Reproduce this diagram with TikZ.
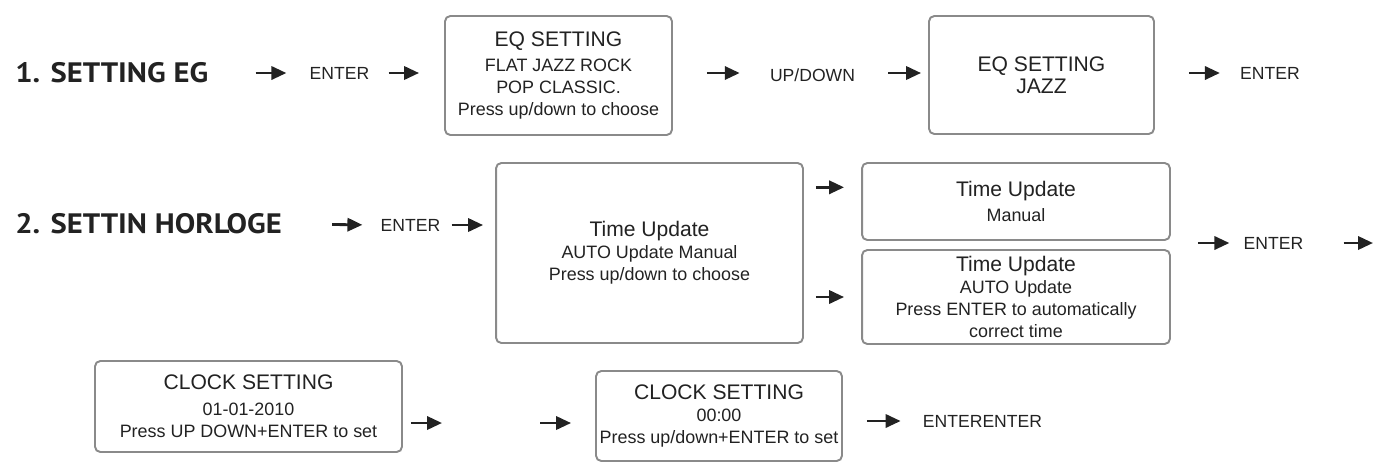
\documentclass[tikz,border=0pt]{standalone}
\usepackage{fontspec}
\setmainfont{Liberation Sans}
\newfontfamily\headfont[FakeStretch=1.09]{PT Sans}
\usetikzlibrary{arrows.meta,calc}
\definecolor{Ink}{HTML}{222222}
\definecolor{Frame}{HTML}{8A8A8A}
\newcommand\scrtitle[1]{{\fontsize{12}{14}\selectfont #1}}

\begin{document}
\begin{tikzpicture}[x=0.02cm,y=-0.02cm,
  screen/.style={draw=Frame,line width=1.1pt,rounded corners=3pt,fill=white,inner sep=0pt,
    align=center,text=Ink,font=\fontsize{10.2}{12.6}\selectfont},
  lbl/.style={inner sep=0pt,text=Ink,font=\fontsize{10}{12}\selectfont},
  head/.style={inner sep=0pt,anchor=west,text=Ink,font=\headfont\bfseries\fontsize{16}{18}\selectfont},
  arr/.style={-{Triangle[length=8.5pt,width=7.5pt]},line width=1.6pt,Ink},
  gaps/.style 2 args={shorten <=#1*0.02cm,shorten >=#2*0.02cm}]
  \useasboundingbox (0,0) rectangle (1376,468);

  % row 1: equaliser
  \node[head] (t1) at (15,73) {1. SETTING EG};
  \node[lbl] (e1) at (339.5,73) {ENTER};
  \node[screen,minimum width=4.54cm,minimum height=2.38cm] (eqlist) at (558.5,75.5)
    {\scrtitle{EQ SETTING}\\[1.5pt] FLAT JAZZ ROCK\\ POP CLASSIC.\\ Press up/down to choose};
  \node[lbl] (updown) at (812.5,75) {UP/DOWN};
  \node[screen,minimum width=4.5cm,minimum height=2.36cm] (eqjazz) at (1041.5,75)
    {\scrtitle{EQ SETTING}\\ \scrtitle{JAZZ}};
  \node[lbl] (e2) at (1270,73) {ENTER};

  % row 2: clock update
  \node[head] (t2) at (15,224) {2. SETTIN HORLOGE};
  \node[lbl] (e3) at (410.5,225) {ENTER};
  \node[screen,minimum width=6.14cm,minimum height=3.6cm] (tmenu) at (649.5,253)
    {\scrtitle{Time Update}\\ AUTO Update Manual\\ Press up/down to choose};
  \node[screen,minimum width=6.16cm,minimum height=1.54cm] (tmanual) at (1016,201.5)
    {\scrtitle{Time Update}\\[2pt] Manual};
  \node[screen,minimum width=6.16cm,minimum height=1.88cm] (tauto) at (1016,297)
    {\scrtitle{Time Update}\\ AUTO Update\\ Press ENTER to automatically\\ correct time};
  \node[lbl] (e4) at (1273.5,243) {ENTER};
  \coordinate (next) at (1373,243);

  % row 3: clock setting
  \node[screen,minimum width=6.14cm,minimum height=1.82cm] (cdate) at (248.5,406.5)
    {\scrtitle{CLOCK SETTING}\\[2pt] 01-01-2010\\ Press UP DOWN+ENTER to set};
  \coordinate (skip) at (491,423);
  \node[screen,minimum width=4.92cm,minimum height=1.8cm] (ctime) at (719,416)
    {\scrtitle{CLOCK SETTING}\\ 00:00\\ Press up/down+ENTER to set};
  \node[lbl] (e5) at (982.5,421) {ENTERENTER};

  % arrows
  \draw[arr,gaps={47}{23}] (t1.east) -- (e1.west);
  \draw[arr,gaps={19}{25}] (e1.east) -- (eqlist.west |- e1.east);
  \draw[arr,gaps={34}{30}] (eqlist.east |- e1.east) -- (updown.west |- e1.east);
  \draw[arr,gaps={33}{7}] (updown.east |- e1.east) -- (eqjazz.west |- e1.east);
  \draw[arr,gaps={34}{20}] (eqjazz.east |- e2.west) -- (e2.west);

  \draw[arr,gaps={50}{18}] (t2.east) -- (e3.west);
  \draw[arr,gaps={11}{12}] (e3.east) -- (tmenu.west |- e3.east);
  \coordinate (upin) at ($(tmanual.north west)!0.32!(tmanual.south west)$);
  \draw[arr,gaps={12}{17}] (tmenu.east |- upin) -- (upin);
  \draw[arr,gaps={12}{17}] (tmenu.east |- tauto.west) -- (tauto.west);
  \draw[arr,gaps={27}{14}] (tmanual.east |- e4.west) -- (e4.west);
  \draw[arr,gaps={40}{0}] (e4.east) -- (next);

  \draw[arr,gaps={8}{49}] (cdate.east |- skip) -- (skip);
  \draw[arr,gaps={49}{24}] (skip) -- (ctime.west |- skip);
  \draw[arr,gaps={24}{22}] (ctime.east |- e5.west) -- (e5.west);
\end{tikzpicture}
\end{document}
